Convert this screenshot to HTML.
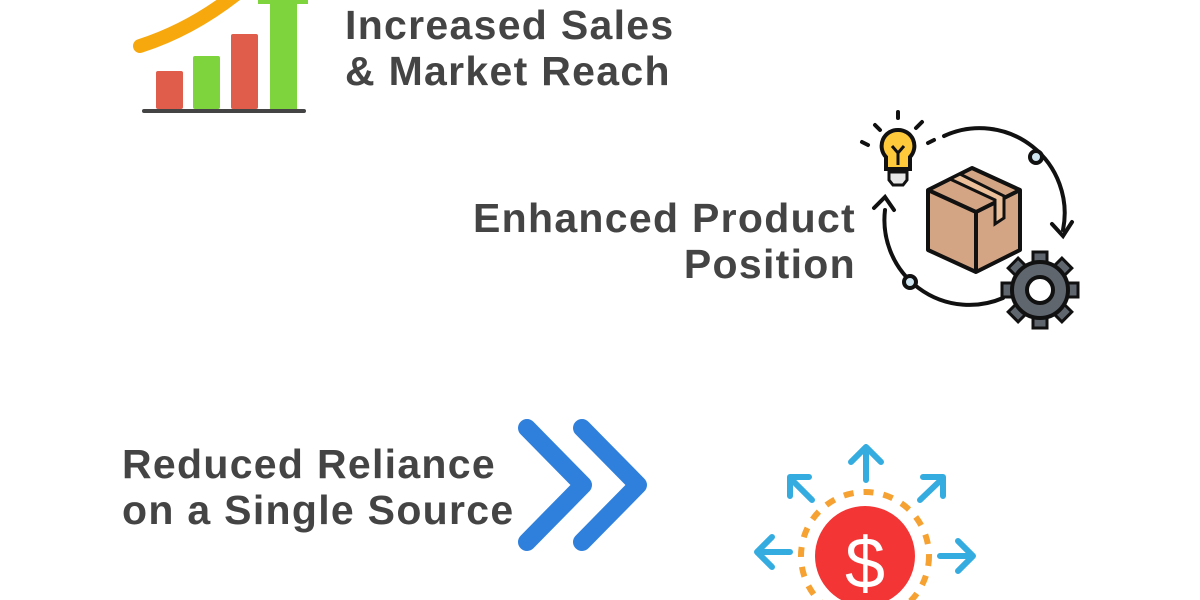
<!DOCTYPE html>
<html><head><style>
body{margin:0;width:1200px;height:600px;background:#fff;overflow:hidden;position:relative;font-family:"Liberation Sans",sans-serif}
.t{position:absolute;font-weight:bold;color:#444;font-size:41px;letter-spacing:1.3px;line-height:46px;white-space:nowrap}
svg{position:absolute;left:0;top:0}
</style></head><body>
<svg width="1200" height="600">
 <path d="M140 46 Q190 30 235 -5" stroke="#f7a80c" stroke-width="14" fill="none" stroke-linecap="round"/>
 <rect x="156" y="71" width="27" height="38" rx="2" fill="#e05c4b"/>
 <rect x="193" y="56" width="27" height="53" rx="2" fill="#7ed43c"/>
 <rect x="231" y="34" width="27" height="75" rx="2" fill="#e05c4b"/>
 <rect x="270" y="0" width="27" height="109" fill="#7ed43c"/>
 <rect x="258" y="-10" width="50" height="14" fill="#7ed43c"/>
 <line x1="144" y1="111" x2="304" y2="111" stroke="#444" stroke-width="4" stroke-linecap="round"/>
 <g fill="none" stroke="#111" stroke-width="4" stroke-linecap="round">
  <path d="M944 136 A85 85 0 0 1 1063 230"/>
  <path d="M1052 224 L1063 236 L1072 222"/>
  <path d="M1003 298 A85 85 0 0 1 885 210"/>
  <path d="M874 208 L885 197 L894 210"/>
  <line x1="880" y1="130" x2="875" y2="125"/><line x1="898" y1="118" x2="898" y2="112"/><line x1="916" y1="128" x2="922" y2="122"/><line x1="868" y1="145" x2="862" y2="142"/><line x1="928" y1="143" x2="934" y2="140"/>
 </g>
 <circle cx="1036" cy="157" r="6" fill="#cfe6f0" stroke="#111" stroke-width="4"/>
 <circle cx="910" cy="282" r="6" fill="#cfe6f0" stroke="#111" stroke-width="4"/>
 <path d="M898 130 a16 16 0 0 1 12 27 v12 h-24 v-12 a16 16 0 0 1 12 -27z" fill="#ffc93c" stroke="#111" stroke-width="4"/>
 <path d="M889 172 h18 v8 l-4 5 h-10 l-4 -5z" fill="#e6e6e6" stroke="#111" stroke-width="3"/>
 <path d="M898 165 v-12 M892 146 l6 7 6 -7" stroke="#111" stroke-width="3" fill="none"/>
 <path d="M928 190 L972 168 L1020 190 L1020 250 L976 272 L928 250z" fill="#d4a584" stroke="#111" stroke-width="4" stroke-linejoin="round"/>
 <path d="M928 190 L976 212 L1020 190 M976 212 V272" stroke="#111" stroke-width="4" fill="none"/>
 <path d="M950 179 L995 200 V224 L1004 218 V196 L960 174z" fill="#ecc09b" stroke="#111" stroke-width="3"/>
 <g transform="translate(1040 290)">
  <g fill="#5f666e" stroke="#111" stroke-width="3">
   <rect x="-7" y="-38" width="14" height="12"/><rect x="-7" y="26" width="14" height="12"/>
   <rect x="-38" y="-7" width="12" height="14"/><rect x="26" y="-7" width="12" height="14"/>
   <rect x="-7" y="-38" width="14" height="12" transform="rotate(45)"/><rect x="-7" y="-38" width="14" height="12" transform="rotate(135)"/>
   <rect x="-7" y="-38" width="14" height="12" transform="rotate(225)"/><rect x="-7" y="-38" width="14" height="12" transform="rotate(315)"/>
  </g>
  <circle r="28" fill="#5f666e" stroke="#111" stroke-width="4"/>
  <circle r="13" fill="#fff" stroke="#111" stroke-width="4"/>
 </g>
 <g fill="none" stroke="#2f80dc" stroke-width="18" stroke-linecap="round" stroke-linejoin="round">
  <path d="M527 428 L583 485 L527 542"/>
  <path d="M582 428 L638 485 L582 542"/>
 </g>
 <circle cx="865" cy="556" r="64" fill="none" stroke="#f6a232" stroke-width="6" stroke-dasharray="10 10"/>
 <circle cx="865" cy="556" r="50" fill="#f33535"/>
 <text x="865" y="588" font-size="72" fill="#fff" text-anchor="middle" font-family="Liberation Sans">$</text>
 <g fill="none" stroke="#35ace0" stroke-width="6" stroke-linecap="round" stroke-linejoin="round">
  <path d="M866 480 V447 M851 462 L866 447 L881 462"/>
  <path d="M812 500 L790 478 M790 496 V477 H809"/>
  <path d="M920 500 L943 478 M923 477 H943 V496"/>
  <path d="M790 552 H757 M772 537 L757 552 L772 567"/>
  <path d="M940 556 H973 M958 541 L973 556 L958 571"/>
 </g>
</svg>
<div class="t" style="left:345px;top:2px">Increased Sales<br>&amp; Market Reach</div>
<div class="t" style="right:344px;top:195px;text-align:right">Enhanced Product<br>Position</div>
<div class="t" style="left:122px;top:441px">Reduced Reliance<br>on a Single Source</div>
</body></html>
